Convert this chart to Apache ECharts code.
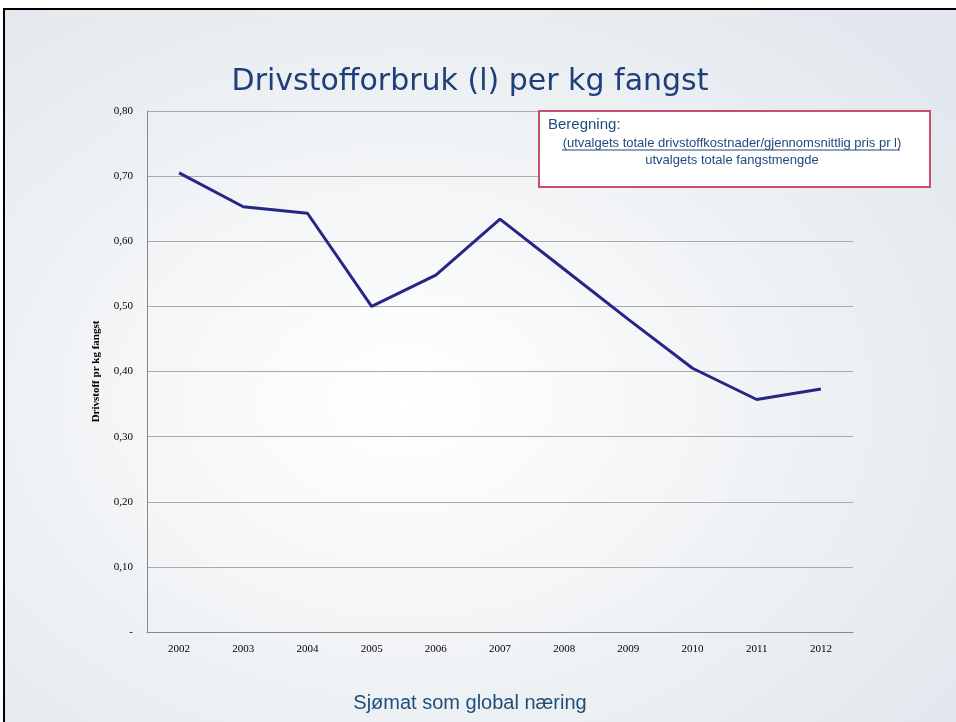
<!DOCTYPE html>
<html><head><meta charset="utf-8">
<script src="https://cdn.jsdelivr.net/npm/echarts@6/dist/echarts.min.js"></script>
<style>
html,body{margin:0;padding:0;width:956px;height:722px;overflow:hidden;background:#fff;}
#bg{position:absolute;left:3px;top:8px;width:953px;height:714px;box-sizing:border-box;border-left:2px solid #000;border-top:2px solid #000;
background:radial-gradient(ellipse 70% 70% at 42% 55%, #ffffff 0%, #f3f5f7 45%, #e2e8ed 100%);}
#c{position:absolute;left:0;top:0;width:956px;height:722px;}
</style></head>
<body><div id="bg"></div><div id="c"></div>
<script>
const categories = ['2002','2003','2004','2005','2006','2007','2008','2009','2010','2011','2012'];
const values = [0.705,0.653,0.643,0.500,0.548,0.634,0.557,0.480,0.405,0.357,0.373];
const titleText = 'Drivstofforbruk (l) per kg fangst';
const yAxisName = 'Drivstoff pr kg fangst';
const footerText = 'Sjømat som global næring';
const noteTitle = 'Beregning:';
const noteLine1 = '(utvalgets totale drivstoffkostnader/gjennomsnittlig pris pr l)';
const noteLine2 = 'utvalgets totale fangstmengde';

const chart = echarts.init(document.getElementById('c'), null, {renderer:'canvas'});
chart.setOption({
  backgroundColor:'transparent',
  animation:false,
  title:{text:titleText,left:465,textAlign:'center',top:62,
    textStyle:{fontFamily:'DejaVu Sans',fontWeight:'normal',fontSize:30,color:'#1f3f7a'}},
  grid:{left:147,right:103,top:111,bottom:90},
  xAxis:{type:'category',data:categories,boundaryGap:true,
    axisLine:{lineStyle:{color:'#888',width:1}},axisTick:{show:false},
    axisLabel:{margin:12,fontFamily:'Liberation Serif',fontSize:11,color:'#000'}},
  yAxis:{type:'value',min:0,max:0.8,interval:0.1,
    name:yAxisName,nameLocation:'middle',nameGap:45,nameRotate:90,
    nameTextStyle:{fontFamily:'Liberation Serif',fontWeight:'bold',fontSize:11,color:'#000'},
    axisLine:{show:true,lineStyle:{color:'#888',width:1}},axisTick:{show:false},
    splitLine:{lineStyle:{color:'#aaa',width:1}},
    axisLabel:{margin:14,fontFamily:'Liberation Serif',fontSize:11,color:'#000',
      formatter:v=> v===0?'-':v.toFixed(2).replace('.',',')}},
  series:[{type:'line',data:values,symbol:'none',z:2,
    lineStyle:{color:'#262686',width:3},itemStyle:{color:'#262686'}}],
  graphic:[
    {type:'rect',z:100,shape:{x:539,y:111,width:391,height:76},
      style:{fill:'#fff',stroke:'#c8506e',lineWidth:2}},
    {type:'text',z:101,x:548,y:117,style:{text:noteTitle,font:'15px "Liberation Sans"',fill:'#1f497d'}},
    {type:'text',z:101,x:732,y:137,style:{text:noteLine1,font:'13px "Liberation Sans"',fill:'#1f497d',textAlign:'center'}},
    {type:'line',z:101,shape:{x1:562,y1:150,x2:900,y2:150},style:{stroke:'#1f497d',lineWidth:1}},
    {type:'text',z:101,x:732,y:154,style:{text:noteLine2,font:'13px "Liberation Sans"',fill:'#1f497d',textAlign:'center'}},
    {type:'text',z:101,x:470,y:693,style:{text:footerText,font:'20px "Liberation Sans"',fill:'#1f4e79',textAlign:'center'}}
  ]
});
</script></body></html>
